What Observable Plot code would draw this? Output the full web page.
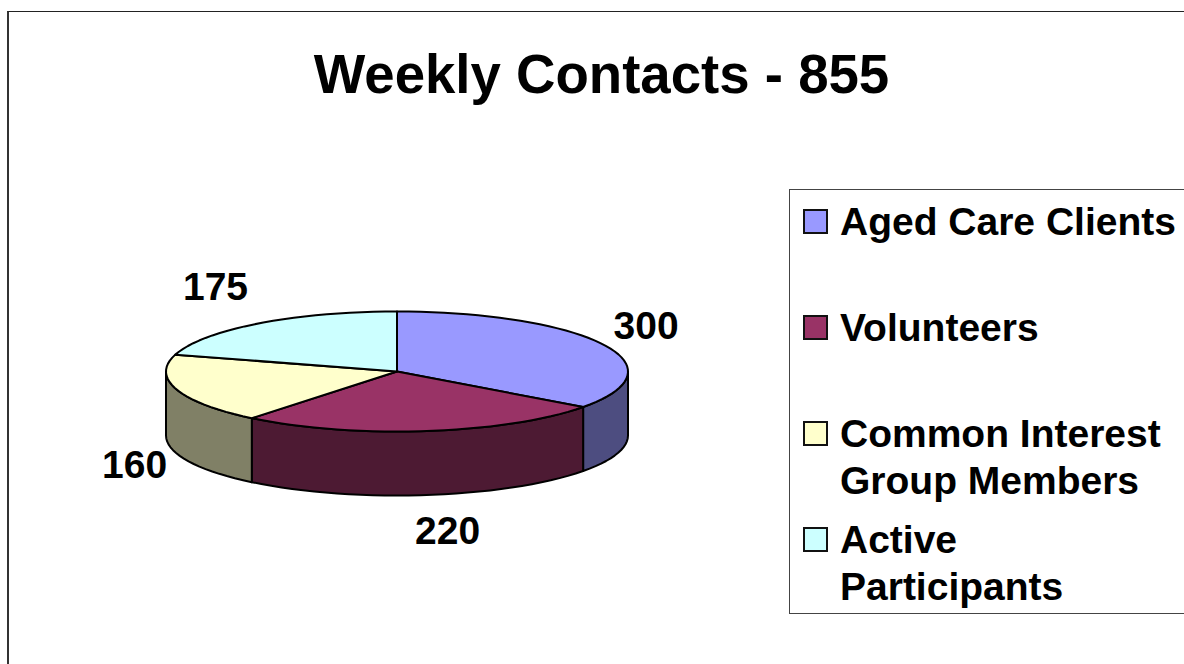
<!DOCTYPE html>
<html>
<head>
<meta charset="utf-8">
<script src="https://cdn.jsdelivr.net/npm/d3@7"></script>
<script src="https://cdn.jsdelivr.net/npm/@observablehq/plot@0.6"></script>
<style>
html,body{margin:0;padding:0;background:#fff;overflow:hidden}
#page{position:relative;width:1184px;height:664px;overflow:hidden;font-family:"Liberation Sans",Arial,sans-serif;font-weight:700;color:#000}
#frame{position:absolute;left:7px;top:11px;width:1300px;height:800px;border-left:2px solid #333;border-top:1.5px solid #222}
#title{position:absolute;left:0;top:44px;width:1203px;text-align:center;font-size:54.6px;line-height:62px;white-space:nowrap}
#legend{position:absolute;left:788.5px;top:188.5px;width:500px;height:423px;border:1px solid #444}
.sw{position:absolute;left:13.5px;width:25px;height:25px;box-sizing:border-box;border:2px solid #111}
.lb{position:absolute;left:50.5px;font-size:39px;line-height:47.5px;white-space:pre}
#chart{position:absolute;left:0;top:0}
</style>
</head>
<body>
<div id="page">
<div id="frame"></div>
<div id="chart"></div>
<div id="title"></div>
<div id="legend"></div>
</div>
<script>
const titleText = "Weekly Contacts - 855";
const categories = ["Aged Care Clients", "Volunteers", "Common Interest Group Members", "Active Participants"];
const legendLines = ["Aged Care Clients", "Volunteers", "Common Interest\nGroup Members", "Active\nParticipants"];
const values = [300, 220, 160, 175];
const topColors = ["#9999FF", "#993366", "#FFFFCC", "#CCFFFF"];
const sideColors = ["#4D4D80", "#4D1A33", "#808066", "#668080"];

// layout of the tilted pie
const cx = 396.5, cy = 371, rx = 231, ry = 60, depth = 64;
const labelDx = [43, 21, -42, -43];
const labelDy = [-18, 37, 12, -36];
const legendSwatchY = [19, 125, 231, 337];
const legendTextY = [8, 114, 220, 326];

const arcs = d3.pie().sort(null).value((d) => d)(values);
const px = (a) => cx + rx * Math.sin(a);
const py = (a) => cy - ry * Math.cos(a);
const STEP = Math.PI / 60;
function sweep(a0, a1) {
  const out = [];
  const n = Math.max(1, Math.ceil((a1 - a0) / STEP));
  for (let i = 0; i <= n; i++) out.push(a0 + (a1 - a0) * i / n);
  return out;
}

const sides = [], tops = [];
arcs.forEach((arc, i) => {
  // wall: only the front half of the rim faces the viewer
  const a0 = Math.max(arc.startAngle, Math.PI / 2);
  const a1 = Math.min(arc.endAngle, 3 * Math.PI / 2);
  if (a1 > a0) {
    const s = sweep(a0, a1);
    const pts = [
      ...s.map((a) => ({x: px(a), y: py(a)})),
      ...s.slice().reverse().map((a) => ({x: px(a), y: py(a) + depth}))
    ];
    pts.push(pts[0]);
    pts.forEach((p) => sides.push({...p, k: i, color: sideColors[i]}));
  }
  const pts = [{x: cx, y: cy}, ...sweep(arc.startAngle, arc.endAngle).map((a) => ({x: px(a), y: py(a)})), {x: cx, y: cy}];
  pts.forEach((p) => tops.push({...p, k: i, color: topColors[i]}));
});

const labels = arcs.map((arc, i) => {
  const mid = (arc.startAngle + arc.endAngle) / 2;
  const front = Math.cos(mid) < 0;
  return {x: px(mid) + labelDx[i], y: py(mid) + (front ? depth : 0) + labelDy[i], text: String(values[i])};
});

const plot = Plot.plot({
  width: 1184, height: 664, margin: 0,
  x: {domain: [0, 1184], range: [0, 1184], axis: null},
  y: {domain: [0, 664], range: [0, 664], axis: null},
  style: {background: "transparent"},
  marks: [
    Plot.line(sides, {x: "x", y: "y", z: "k", fill: "color", stroke: "#000", strokeWidth: 2, strokeLinejoin: "round"}),
    Plot.line(tops, {x: "x", y: "y", z: "k", fill: "color", stroke: "#000", strokeWidth: 2, strokeLinejoin: "round"}),
    Plot.text(labels, {x: "x", y: "y", text: "text", fontSize: 39, fontWeight: 700, fontFamily: "Liberation Sans", fill: "#000"})
  ]
});
document.getElementById("chart").appendChild(plot);
document.getElementById("title").textContent = titleText;
const legend = document.getElementById("legend");
categories.forEach((c, i) => {
  const sw = document.createElement("div");
  sw.className = "sw"; sw.style.top = legendSwatchY[i] + "px"; sw.style.background = topColors[i];
  const lb = document.createElement("div");
  lb.className = "lb"; lb.style.top = legendTextY[i] + "px"; lb.textContent = legendLines[i];
  legend.append(sw, lb);
});
</script>
</body>
</html>
